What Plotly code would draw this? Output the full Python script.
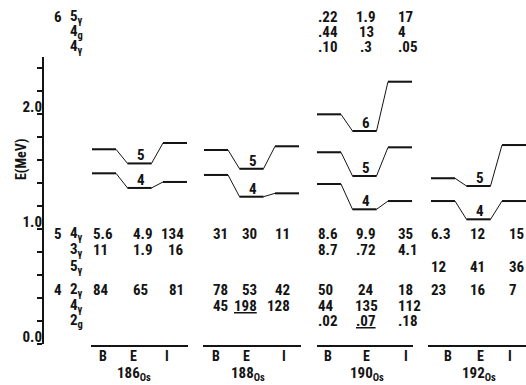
import plotly.graph_objects as go

# ---------------- data ----------------
nuclei = ["186", "188", "190", "192"]
models = ["B", "E", "I"]

# level energies (MeV) for models B, E, I
E_spin4 = [[1.484, 1.357, 1.409], [1.470, 1.281, 1.310], [1.391, 1.171, 1.243], [1.243, 1.084, 1.243]]
E_spin5 = [[1.693, 1.570, 1.748], [1.687, 1.524, 1.719], [1.667, 1.461, 1.710], [1.441, 1.374, 1.730]]
E_spin6_190 = [1.997, 1.852, 2.281]

# branching tables: rows of final states, per nucleus, values for B, E, I
rows6 = ["5<sub>γ</sub>", "4<sub>g</sub>", "4<sub>γ</sub>"]
rows5 = ["4<sub>γ</sub>", "3<sub>γ</sub>", "5<sub>γ</sub>"]
rows4 = ["2<sub>γ</sub>", "4<sub>γ</sub>", "2<sub>g</sub>"]

tab6_190 = [[".22", "1.9", "17"], [".44", "13", "4"], [".10", ".3", ".05"]]
tab5 = [
    [["5.6", "4.9", "134"], ["11", "1.9", "16"], ["", "", ""]],
    [["31", "30", "11"], ["", "", ""], ["", "", ""]],
    [["8.6", "9.9", "35"], ["8.7", ".72", "4.1"], ["", "", ""]],
    [["6.3", "12", "15"], ["", "", ""], ["12", "41", "36"]],
]
tab4 = [
    [["84", "65", "81"], ["", "", ""], ["", "", ""]],
    [["78", "53", "42"], ["45", "<u>198</u>", "128"], ["", "", ""]],
    [["50", "24", "18"], ["44", "135", "112"], [".02", "<u>.07</u>", ".18"]],
    [["23", "16", "7"], ["", "", ""], ["", "", ""]],
]

# ---------------- layout constants (pixels) ----------------
W, H = 526, 385
Y0PX, PXPERMEV = 344.0, 115.0


def mev(ypx):
    return (Y0PX - ypx) / PXPERMEV


grp_x0 = [92, 204, 317, 431]
seg_off = [0, 35.5, 71]
seg_len = 24

col_pos = [
    [(91, "left"), (131, "left"), (186, "right")],
    [(211, "left"), (259, "right"), (292, "right")],
    [(316, "left"), (366, "center"), (396, "left")],
    [(429, "left"), (468, "left"), (507, "left")],
]
rows6_y = [17, 32, 47]
rows5_y = [234, 250, 267]
rows4_y = [290, 306, 321]
lab_x = [[103, 133, 167], [216, 246, 284], [328, 366, 406], [448, 480, 510]]
name_x = [134, 248, 367, 479]
base_x = [(91, 188), (203, 301), (317, 413), (428, 526)]

FONT = "Roboto Condensed, Liberation Sans, Arial, sans-serif"
FS = 15
INK = "#141414"

fig = go.Figure()


def add_level(gi, energies, label):
    x0 = grp_x0[gi]
    xs, ys = [], []
    hx, hy = [], []
    for k, e in enumerate(energies):
        a = x0 + seg_off[k]
        b = a + seg_len
        xs += [a, b]
        ys += [e, e]
        hx += [a, b, None]
        hy += [e, e, None]
    fig.add_trace(go.Scatter(x=xs, y=ys, mode="lines", line=dict(color=INK, width=1),
                             showlegend=False, hoverinfo="skip"))
    fig.add_trace(go.Scatter(x=hx, y=hy, mode="lines", line=dict(color=INK, width=2),
                             showlegend=False, hoverinfo="skip"))
    xc = x0 + seg_off[1] + seg_len / 2 + 1
    fig.add_annotation(x=xc, y=energies[1], xref="x", yref="y", text="<b>%s</b>" % label,
                       showarrow=False, xanchor="center", yanchor="bottom", yshift=-3,
                       font=dict(family=FONT, size=FS, color=INK))


for gi in range(4):
    add_level(gi, E_spin4[gi], "4")
    add_level(gi, E_spin5[gi], "5")
add_level(2, E_spin6_190, "6")

# baselines under each nucleus
for gi in range(4):
    a, b = base_x[gi]
    fig.add_trace(go.Scatter(x=[a, b], y=[mev(346), mev(346)], mode="lines",
                             line=dict(color=INK, width=2), showlegend=False, hoverinfo="skip"))


def txt(x, ypx, s, anchor="left", size=FS):
    fig.add_annotation(x=x, y=mev(ypx), xref="x", yref="y", text="<b>%s</b>" % s,
                       showarrow=False, xanchor=anchor, yanchor="middle",
                       font=dict(family=FONT, size=size, color=INK))


# left row labels
txt(52, 17, "6")
txt(52, 234, "5")
txt(52, 290, "4")
for r, ypx in enumerate(rows6_y):
    txt(68, ypx, rows6[r])
for r, ypx in enumerate(rows5_y):
    txt(68, ypx, rows5[r])
for r, ypx in enumerate(rows4_y):
    txt(68, ypx, rows4[r])

# table values
for r, ypx in enumerate(rows6_y):
    for c in range(3):
        x, an = col_pos[2][c]
        txt(x, ypx, tab6_190[r][c], an)
for gi in range(4):
    for r in range(3):
        for c in range(3):
            x, an = col_pos[gi][c]
            if tab5[gi][r][c]:
                txt(x, rows5_y[r], tab5[gi][r][c], an)
            if tab4[gi][r][c]:
                txt(x, rows4_y[r], tab4[gi][r][c], an)

# model labels and nucleus names
for gi in range(4):
    for c in range(3):
        txt(lab_x[gi][c], 356, models[c], "center", 14)
    txt(name_x[gi], 374, nuclei[gi] + "<sub>Os</sub>", "center")

# E(MeV) title
fig.add_annotation(x=21, y=mev(160), xref="x", yref="y", text="<b>E(MeV)</b>", showarrow=False,
                   textangle=-90, font=dict(family=FONT, size=14, color=INK))

# dummy trace for the visible energy axis
fig.add_trace(go.Scatter(x=[None], y=[None], yaxis="y2", showlegend=False, hoverinfo="skip"))

tickvals = [round(0.2 * i, 1) for i in range(13)]
ticktext = [("<b>%.1f</b>" % v) if abs(v - round(v)) < 1e-9 else "" for v in tickvals]

AX_TOP = 57
fig.update_layout(
    width=W, height=H, margin=dict(l=0, r=0, t=0, b=0, pad=0, autoexpand=False),
    paper_bgcolor="white", plot_bgcolor="rgba(0,0,0,0)",
    xaxis=dict(range=[0, W], visible=False, fixedrange=True),
    yaxis=dict(range=[mev(H), mev(0)], visible=False, fixedrange=True),
    yaxis2=dict(domain=[(H - Y0PX) / H, (H - AX_TOP) / H], range=[0, mev(AX_TOP)],
                anchor="free", position=43 / W, showline=True, linecolor=INK, linewidth=2,
                ticks="outside", ticklen=5, tickwidth=2, tickcolor=INK,
                tickvals=tickvals, ticktext=ticktext, showgrid=False, zeroline=False,
                ticklabelshift=-7, ticklabelstandoff=-8,
                tickfont=dict(family=FONT, size=FS, color=INK)),
    showlegend=False,
)

fig.write_html("out.html")
